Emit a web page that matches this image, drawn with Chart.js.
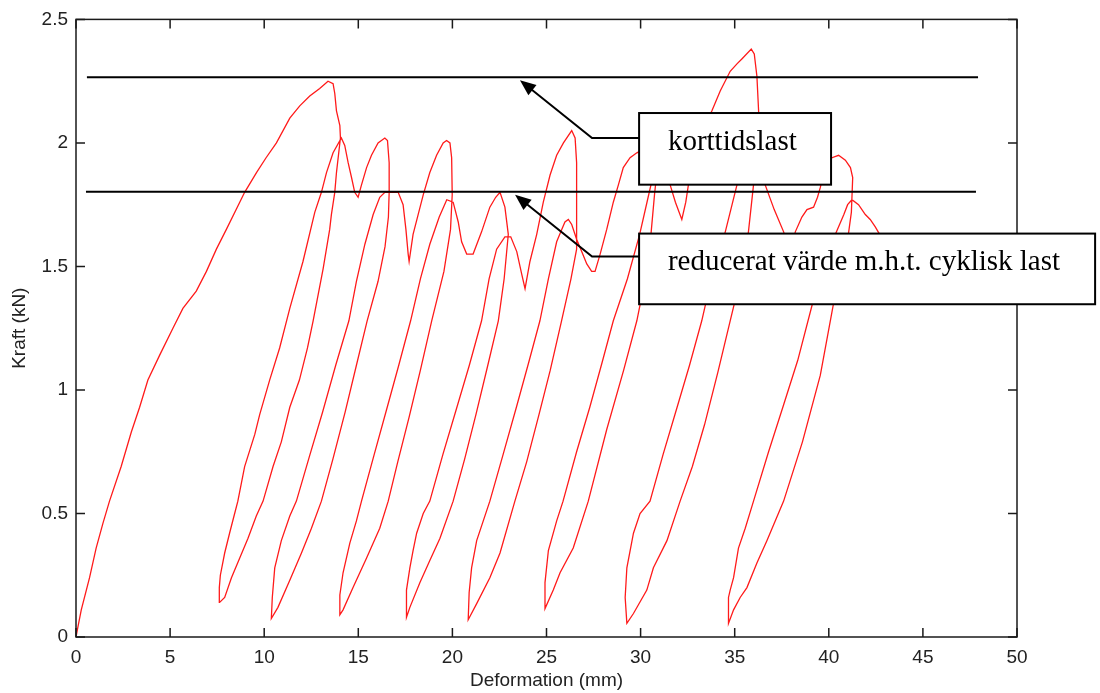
<!DOCTYPE html>
<html>
<head>
<meta charset="utf-8">
<title>Kraft - deformation</title>
<script src="https://cdn.jsdelivr.net/npm/chart.js@4.4.1/dist/chart.umd.min.js"></script>
<style>
  html, body { margin: 0; padding: 0; background: #fff; }
  canvas { display: block; }
</style>
</head>
<body>
<canvas id="chart" width="1100" height="693"></canvas>
<script>
// axis ticks
const xTicks = [0, 5, 10, 15, 20, 25, 30, 35, 40, 45, 50];
const yTicks = [0, 0.5, 1, 1.5, 2, 2.5];

// measured curve, [deformation (mm), kraft (kN)], in test order
const virgin = [[0,0],[0.1,0.04],[0.28,0.11],[0.72,0.24],[1.07,0.36],[1.43,0.46],[1.78,0.55],[2.4,0.69],[2.94,0.83],[3.38,0.93],[3.82,1.04],[4.44,1.14],[5.15,1.25],[5.68,1.33],[6.39,1.4],[6.93,1.48],[7.46,1.57],[7.99,1.65],[8.7,1.76],[8.96,1.8],[9.59,1.88],[10.1,1.94],[10.65,2.0],[11.36,2.1],[11.89,2.15],[12.42,2.19],[12.95,2.22],[13.39,2.25],[13.66,2.24],[13.75,2.2],[13.84,2.13],[14.02,2.07],[14.05,2.02]];
const unload1 = [[14.05,2.02],[13.84,1.88],[13.75,1.8],[13.57,1.71],[13.48,1.65],[13.13,1.49],[12.6,1.28],[12.3,1.17],[11.87,1.04],[11.36,0.93],[10.91,0.79],[10.47,0.69],[9.94,0.55],[9.58,0.49],[9.14,0.4],[8.7,0.32],[8.26,0.24],[7.9,0.16],[7.63,0.14]];
const reload2 = [[7.63,0.14],[7.6,0.2],[7.67,0.25],[7.9,0.34],[8.16,0.42],[8.43,0.5],[8.6,0.55],[8.96,0.69],[9.5,0.82],[9.76,0.9],[10.29,1.04],[10.82,1.17],[11.36,1.33],[12.06,1.52],[12.69,1.72],[13.04,1.8],[13.31,1.88],[13.66,1.96],[14.1,2.02],[14.28,1.99],[14.46,1.92],[14.64,1.86],[14.81,1.8],[14.99,1.78],[15.17,1.83],[15.44,1.9],[15.7,1.95],[16.05,2.0],[16.41,2.02],[16.55,2.01],[16.64,1.92],[16.64,1.8]];
const unload2 = [[16.64,1.8],[16.6,1.7],[16.42,1.58],[16.05,1.44],[15.47,1.28],[14.9,1.1],[14.3,0.91],[13.65,0.72],[13.04,0.55],[12.51,0.44],[11.98,0.34],[11.36,0.23],[10.73,0.12],[10.38,0.075]];
const reload3 = [[10.38,0.075],[10.43,0.16],[10.56,0.28],[10.91,0.39],[11.36,0.49],[11.71,0.55],[12.4,0.73],[13.1,0.91],[13.8,1.1],[14.5,1.28],[14.9,1.44],[15.35,1.59],[15.79,1.71],[16.14,1.78],[16.41,1.8],[17.12,1.8],[17.38,1.75],[17.53,1.65],[17.65,1.55],[17.7,1.52],[17.91,1.63],[18.18,1.71],[18.45,1.79],[18.8,1.88],[19.16,1.95],[19.51,2.0],[19.69,2.01],[19.87,2.0],[19.96,1.94],[19.99,1.79]];
const unload3 = [[19.99,1.79],[19.9,1.65],[19.55,1.48],[18.9,1.28],[18.3,1.08],[17.7,0.89],[17.1,0.71],[16.59,0.55],[16.14,0.44],[15.44,0.32],[14.72,0.2],[14.19,0.11],[14.02,0.09]];
const reload4 = [[14.02,0.09],[14.02,0.17],[14.19,0.26],[14.55,0.38],[14.9,0.47],[15.17,0.55],[15.85,0.74],[16.5,0.92],[17.15,1.1],[17.78,1.28],[18.3,1.45],[18.8,1.59],[19.3,1.7],[19.7,1.77],[20.04,1.76],[20.31,1.68],[20.49,1.6],[20.76,1.55],[21.1,1.55],[21.55,1.64],[21.99,1.74],[22.3,1.78],[22.53,1.8],[22.79,1.74],[22.97,1.63]];
const unload4 = [[22.97,1.63],[22.75,1.45],[22.44,1.28],[21.85,1.09],[21.25,0.9],[20.65,0.72],[20.04,0.55],[19.34,0.4],[18.8,0.31],[18.27,0.22],[17.74,0.12],[17.56,0.08]];
const reload5 = [[17.56,0.08],[17.56,0.19],[17.74,0.28],[17.91,0.35],[18.1,0.42],[18.45,0.5],[18.8,0.55],[19.5,0.74],[20.2,0.92],[20.9,1.1],[21.55,1.28],[21.95,1.45],[22.35,1.57],[22.79,1.62],[23.1,1.62],[23.42,1.56],[23.68,1.47],[23.86,1.41],[24.12,1.52],[24.48,1.63],[24.83,1.76],[25.19,1.87],[25.54,1.95],[25.9,2.0],[26.34,2.05],[26.52,2.02],[26.6,1.92],[26.6,1.57]];
const unload5 = [[26.6,1.57],[26.3,1.45],[25.8,1.28],[25.2,1.08],[24.6,0.9],[23.95,0.71],[23.32,0.55],[22.53,0.34],[21.99,0.24],[21.29,0.135],[20.84,0.07]];
const reload6 = [[20.84,0.07],[20.89,0.18],[21.02,0.28],[21.29,0.39],[21.64,0.47],[21.99,0.55],[22.7,0.74],[23.4,0.93],[24.05,1.11],[24.65,1.28],[25.1,1.45],[25.54,1.6],[25.81,1.65],[25.98,1.68],[26.16,1.69],[26.34,1.67],[26.6,1.61],[26.87,1.56],[27.14,1.51],[27.4,1.48],[27.58,1.48],[27.85,1.55],[28.2,1.65],[28.55,1.76],[28.82,1.83],[29.08,1.9],[29.44,1.94],[29.8,1.96],[30.3,1.98],[30.7,1.97],[30.9,1.9]];
const unload6 = [[30.9,1.9],[30.75,1.8],[30.55,1.63],[30.25,1.45],[29.8,1.28],[29.1,1.08],[28.2,0.84],[27.22,0.55],[26.42,0.36],[25.72,0.26],[25.36,0.19],[24.92,0.115]];
const reload7 = [[24.92,0.115],[24.92,0.22],[25.1,0.35],[25.54,0.47],[25.88,0.55],[26.6,0.75],[27.3,0.93],[27.95,1.11],[28.55,1.28],[29.3,1.45],[29.95,1.63],[30.4,1.78],[30.7,1.88],[31.1,1.9],[31.57,1.83],[31.85,1.76],[32.19,1.69],[32.4,1.76],[32.54,1.83],[33.0,1.98],[33.4,2.07],[33.79,2.13],[34.23,2.21],[34.76,2.29],[35.12,2.32],[35.38,2.34],[35.88,2.38],[36.04,2.36],[36.18,2.27],[36.27,2.13],[36.3,2.0]];
const unload7 = [[36.3,2.0],[36.0,1.83],[35.73,1.64],[35.3,1.45],[34.76,1.28],[34.1,1.07],[33.4,0.86],[32.75,0.69],[32.1,0.55],[31.4,0.39],[30.68,0.28],[30.33,0.19],[29.62,0.095],[29.27,0.055]];
const reload8 = [[29.27,0.055],[29.18,0.16],[29.27,0.28],[29.62,0.42],[29.97,0.5],[30.5,0.55],[31.2,0.74],[31.9,0.92],[32.6,1.1],[33.25,1.28],[33.7,1.43],[34.1,1.55],[34.5,1.64],[35.12,1.83],[35.6,1.93],[36.0,1.98],[36.3,1.97],[36.62,1.83],[37.1,1.73],[37.6,1.64],[37.85,1.58],[38.0,1.57],[38.22,1.64],[38.57,1.7],[38.84,1.73],[39.19,1.74],[39.4,1.78],[39.55,1.82],[39.8,1.9],[40.17,1.94],[40.52,1.95],[40.88,1.93],[41.15,1.9],[41.27,1.86]];
const unload8 = [[41.27,1.86],[41.2,1.72],[41.04,1.63],[40.6,1.48],[40.24,1.345],[39.55,1.06],[38.6,0.79],[37.6,0.55],[36.71,0.39],[36.18,0.3],[35.65,0.2],[35.29,0.16],[34.94,0.11],[34.67,0.055]];
const reload9 = [[34.67,0.055],[34.67,0.16],[34.76,0.19],[34.94,0.24],[35.2,0.36],[35.56,0.44],[36.0,0.55],[36.8,0.75],[37.6,0.94],[38.35,1.12],[39.1,1.34],[39.6,1.47],[40.0,1.57],[40.35,1.63],[40.8,1.71],[41.0,1.75],[41.23,1.77],[41.58,1.75],[41.94,1.71],[42.2,1.69],[42.47,1.66],[42.7,1.63],[43.2,1.52]];

// reference load levels (kN) and how far they are drawn (mm)
const korttidslast = 2.266;
const korttidslastRange = [0.58, 47.93];
const reduceratVarde = 1.802;
const reduceratRange = [0.53, 47.82];

const segments = [virgin, unload1, reload2, unload2, reload3, unload3, reload4, unload4,
  reload5, unload5, reload6, unload6, reload7, unload7, reload8, unload8, reload9];
const curve = segments.flat().map(p => ({ x: p[0], y: p[1] }));

// callout boxes, placed in data units
const callouts = [
  { text: 'korttidslast', box: [29.92, 2.121, 40.12, 1.831], textAt: [31.45, 1.972],
    elbow: [27.42, 2.02], tip: [23.59, 2.254] },
  { text: 'reducerat värde m.h.t. cyklisk last', box: [29.92, 1.633, 54.15, 1.347], textAt: [31.45, 1.484],
    elbow: [27.42, 1.54], tip: [23.33, 1.79] }
];

const tickFont = { family: '"Liberation Sans", Arial, sans-serif', size: 19 };

const frame = {
  id: 'frame',
  afterDatasetsDraw(chart) {
    const { ctx, chartArea: a, scales: { x, y } } = chart;
    ctx.save();
    ctx.strokeStyle = '#1a1a1a';
    ctx.lineWidth = 1.5;
    ctx.strokeRect(a.left, a.top, a.right - a.left, a.bottom - a.top);
    ctx.beginPath();
    x.ticks.forEach(t => {
      const px = x.getPixelForValue(t.value);
      ctx.moveTo(px, a.bottom); ctx.lineTo(px, a.bottom - 9);
      ctx.moveTo(px, a.top); ctx.lineTo(px, a.top + 9);
    });
    y.ticks.forEach(t => {
      const py = y.getPixelForValue(t.value);
      ctx.moveTo(a.left, py); ctx.lineTo(a.left + 9, py);
      ctx.moveTo(a.right, py); ctx.lineTo(a.right - 9, py);
    });
    ctx.stroke();
    ctx.restore();
  },
  afterDraw(chart) {
    const { ctx, scales: { x, y } } = chart;
    const px = v => x.getPixelForValue(v);
    const py = v => y.getPixelForValue(v);
    ctx.save();
    callouts.forEach(c => {
      const ex = px(c.elbow[0]), ey = py(c.elbow[1]);
      const tx = px(c.tip[0]), ty = py(c.tip[1]);
      const bx0 = px(c.box[0]), by0 = py(c.box[1]);
      const bx1 = px(c.box[2]), by1 = py(c.box[3]);

      ctx.strokeStyle = '#000';
      ctx.lineWidth = 2;
      ctx.beginPath();
      ctx.moveTo(bx0, ey);
      ctx.lineTo(ex, ey);
      const ang = Math.atan2(ty - ey, tx - ex);
      const head = 16;
      ctx.lineTo(tx - Math.cos(ang) * head * 0.8, ty - Math.sin(ang) * head * 0.8);
      ctx.stroke();

      ctx.fillStyle = '#000';
      ctx.beginPath();
      ctx.moveTo(tx, ty);
      ctx.lineTo(tx - Math.cos(ang) * head + Math.sin(ang) * 6.5, ty - Math.sin(ang) * head - Math.cos(ang) * 6.5);
      ctx.lineTo(tx - Math.cos(ang) * head - Math.sin(ang) * 6.5, ty - Math.sin(ang) * head + Math.cos(ang) * 6.5);
      ctx.closePath();
      ctx.fill();

      ctx.fillStyle = '#fff';
      ctx.fillRect(bx0, by0, bx1 - bx0, by1 - by0);
      ctx.strokeRect(bx0, by0, bx1 - bx0, by1 - by0);

      ctx.fillStyle = '#000';
      ctx.font = '29px "Liberation Serif", "Times New Roman", serif';
      ctx.textAlign = 'left';
      ctx.textBaseline = 'alphabetic';
      ctx.fillText(c.text, px(c.textAt[0]), py(c.textAt[1]));
    });
    ctx.restore();
  }
};

new Chart(document.getElementById('chart'), {
  type: 'scatter',
  data: {
    datasets: [
      {
        label: 'korttidslast',
        data: korttidslastRange.map(v => ({ x: v, y: korttidslast })),
        showLine: true, borderColor: '#000', borderWidth: 2, pointRadius: 0
      },
      {
        label: 'reducerat värde',
        data: reduceratRange.map(v => ({ x: v, y: reduceratVarde })),
        showLine: true, borderColor: '#000', borderWidth: 2, pointRadius: 0
      },
      {
        label: 'Kraft',
        data: curve,
        showLine: true, borderColor: '#ff1a1a', borderWidth: 1.3, pointRadius: 0, tension: 0
      }
    ]
  },
  options: {
    responsive: false,
    devicePixelRatio: 1,
    animation: false,
    layout: { padding: { top: 17, right: 83, left: 0, bottom: 0 } },
    plugins: { legend: { display: false }, tooltip: { enabled: false } },
    scales: {
      x: {
        type: 'linear', min: 0, max: 50,
        afterBuildTicks: s => { s.ticks = xTicks.map(v => ({ value: v })); },
        afterFit: s => { s.height = 56; },
        grid: { display: false, drawTicks: false },
        border: { display: false },
        ticks: { color: '#222', font: tickFont, padding: 9, maxRotation: 0, autoSkip: false,
          callback: v => String(v) },
        title: { display: true, text: 'Deformation (mm)', color: '#222', font: tickFont, padding: { top: 0, bottom: 1 } }
      },
      y: {
        type: 'linear', min: 0, max: 2.5,
        afterBuildTicks: s => { s.ticks = yTicks.map(v => ({ value: v })); },
        afterFit: s => { s.width = 76; },
        grid: { display: false, drawTicks: false },
        border: { display: false },
        ticks: { color: '#222', font: tickFont, padding: 8, autoSkip: false,
          callback: v => String(v) },
        title: { display: true, text: 'Kraft (kN)', color: '#222', font: tickFont, padding: { top: 8, bottom: 0 } }
      }
    }
  },
  plugins: [frame]
});
</script>
</body>
</html>
